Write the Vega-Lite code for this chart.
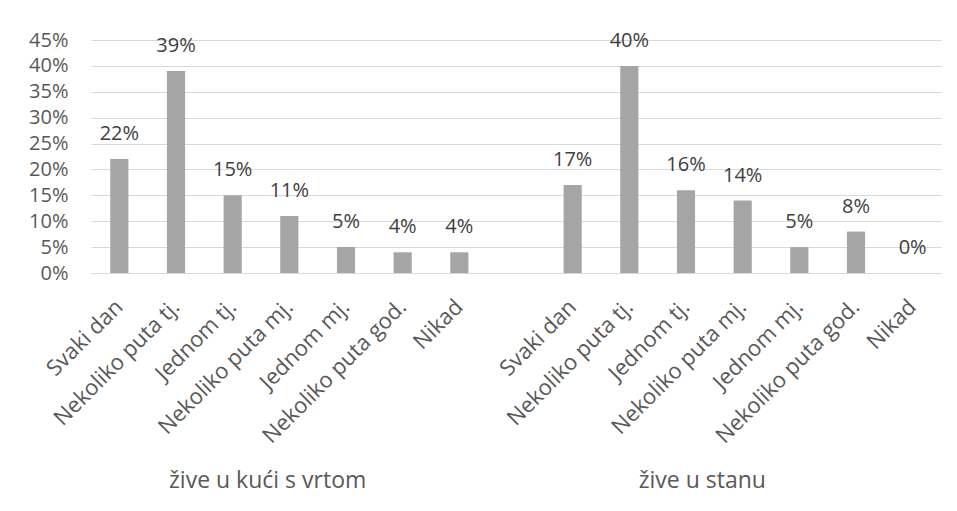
{
  "$schema": "https://vega.github.io/schema/vega-lite/v6.json",
  "autosize": "none",
  "width": 850,
  "height": 233,
  "padding": {"left": 91, "top": 40, "right": 16, "bottom": 238},
  "background": "white",
  "config": {
    "view": {"stroke": null},
    "font": "Open Sans"
  },
  "data": {
    "values": [
      {"slot": "Svaki dan|A", "grupa": "žive u kući s vrtom", "v": 0.22},
      {"slot": "Nekoliko puta tj.|A", "grupa": "žive u kući s vrtom", "v": 0.39},
      {"slot": "Jednom tj.|A", "grupa": "žive u kući s vrtom", "v": 0.15},
      {"slot": "Nekoliko puta mj.|A", "grupa": "žive u kući s vrtom", "v": 0.11},
      {"slot": "Jednom mj.|A", "grupa": "žive u kući s vrtom", "v": 0.05},
      {"slot": "Nekoliko puta god.|A", "grupa": "žive u kući s vrtom", "v": 0.04},
      {"slot": "Nikad|A", "grupa": "žive u kući s vrtom", "v": 0.04},
      {"slot": "Svaki dan|B", "grupa": "žive u stanu", "v": 0.17},
      {"slot": "Nekoliko puta tj.|B", "grupa": "žive u stanu", "v": 0.40},
      {"slot": "Jednom tj.|B", "grupa": "žive u stanu", "v": 0.16},
      {"slot": "Nekoliko puta mj.|B", "grupa": "žive u stanu", "v": 0.14},
      {"slot": "Jednom mj.|B", "grupa": "žive u stanu", "v": 0.05},
      {"slot": "Nekoliko puta god.|B", "grupa": "žive u stanu", "v": 0.08},
      {"slot": "Nikad|B", "grupa": "žive u stanu", "v": 0.0}
    ]
  },
  "resolve": {"axis": {"x": "independent"}},
  "layer": [
    {
      "mark": {"type": "bar", "color": "#a5a5a5"},
      "encoding": {
        "x": {
          "field": "slot",
          "type": "nominal",
          "sort": null,
          "scale": {
            "domain": ["Svaki dan|A", "Nekoliko puta tj.|A", "Jednom tj.|A", "Nekoliko puta mj.|A", "Jednom mj.|A", "Nekoliko puta god.|A", "Nikad|A", "|", "Svaki dan|B", "Nekoliko puta tj.|B", "Jednom tj.|B", "Nekoliko puta mj.|B", "Jednom mj.|B", "Nekoliko puta god.|B", "Nikad|B"],
            "paddingInner": 0.68,
            "paddingOuter": 0.34
          },
          "axis": {
            "orient": "bottom",
            "title": null,
            "labelExpr": "split(datum.value, '|')[0]",
            "labelAngle": -45,
            "labelAlign": "right",
            "labelBaseline": "middle",
            "labelPadding": 30,
            "labelOffset": 0,
            "labelFontSize": 22,
            "labelColor": "#595959",
            "labelOverlap": false,
            "labelLimit": 0,
            "labelBound": false,
            "ticks": false,
            "domain": true,
            "domainColor": "#d9d9d9",
            "grid": false
          }
        },
        "y": {
          "field": "v",
          "type": "quantitative",
          "scale": {"domain": [0, 0.45], "nice": false},
          "axis": {
            "title": null,
            "format": ".0%",
            "values": [0, 0.05, 0.1, 0.15, 0.2, 0.25, 0.3, 0.35, 0.4, 0.45],
            "labelFontSize": 20,
            "labelColor": "#595959",
            "labelPadding": 23,
            "labelOverlap": false,
            "ticks": false,
            "domain": false,
            "grid": true,
            "gridColor": "#d9d9d9",
            "gridWidth": 1
          }
        }
      }
    },
    {
      "mark": {"type": "text", "fontSize": 20, "color": "#404040", "baseline": "middle", "dy": -25},
      "encoding": {
        "x": {
          "field": "slot",
          "type": "nominal",
          "sort": null,
          "axis": {
            "orient": "bottom",
            "title": null,
            "labelExpr": "datum.value == 'Jednom tj.|A' ? 'žive u kući s vrtom' : (datum.value == 'Jednom mj.|B' ? 'žive u stanu' : '')",
            "labelAngle": 0,
            "labelAlign": "center",
            "labelBaseline": "middle",
            "labelPadding": 207,
            "labelOffset": {"condition": {"test": "datum.value == 'Jednom tj.|A'", "value": 35}, "value": -97},
            "labelFontSize": 23,
            "labelColor": "#595959",
            "labelOverlap": false,
            "labelLimit": 0,
            "labelBound": false,
            "ticks": false,
            "domain": false,
            "grid": false
          }
        },
        "y": {
          "field": "v",
          "type": "quantitative",
          "axis": {
            "title": null,
            "format": ".0%",
            "values": [0, 0.05, 0.1, 0.15, 0.2, 0.25, 0.3, 0.35, 0.4, 0.45],
            "labelFontSize": 20,
            "labelColor": "#595959",
            "labelPadding": 23,
            "labelOverlap": false,
            "ticks": false,
            "domain": false,
            "grid": true,
            "gridColor": "#d9d9d9",
            "gridWidth": 1
          }
        },
        "text": {"field": "v", "type": "quantitative", "format": ".0%"}
      }
    }
  ]
}
